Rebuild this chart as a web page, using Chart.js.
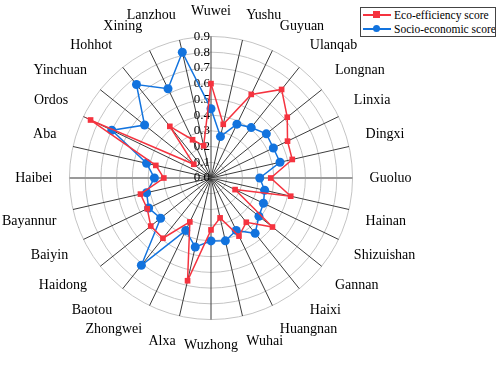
<!DOCTYPE html>
<html>
<head>
<meta charset="utf-8">
<script src="https://cdn.jsdelivr.net/npm/chart.js@4.4.0/dist/chart.umd.min.js"></script>
<style>
  html, body { margin: 0; padding: 0; background: #fff; }
  #wrap { position: relative; width: 498px; height: 365px; }
  #legend {
    position: absolute; left: 360px; top: 7px; width: 134px; overflow: hidden;
    border: 1px solid #444; background: #fff;
    font-family: "Liberation Serif", serif; font-size: 11.5px; color: #000;
    white-space: nowrap;
  }
  .legend-item { display: flex; align-items: center; height: 14px; }
  .legend-line { position: relative; flex: none; width: 28px; height: 1.5px; margin: 0 3px 0 2px; }
  .legend-mark { position: absolute; left: 10px; top: -3px; width: 7px; height: 7px; }
</style>
</head>
<body>
<div id="wrap">
  <canvas id="radarChart" width="498" height="365"></canvas>
  <div id="legend"></div>
</div>
<script>
const cities = ['Wuwei', 'Yushu', 'Guyuan', 'Ulanqab', 'Longnan', 'Linxia', 'Dingxi', 'Guoluo',
  'Hainan', 'Shizuishan', 'Gannan', 'Haixi', 'Huangnan', 'Wuhai', 'Wuzhong', 'Alxa',
  'Zhongwei', 'Baotou', 'Haidong', 'Baiyin', 'Bayannur', 'Haibei', 'Aba', 'Ordos',
  'Yinchuan', 'Hohhot', 'Xining', 'Lanzhou'];
const ecoScore = [0.60, 0.35, 0.59, 0.72, 0.62, 0.54, 0.53, 0.38,
  0.52, 0.17, 0.50, 0.36, 0.41, 0.26, 0.33, 0.67,
  0.31, 0.49, 0.49, 0.45, 0.46, 0.30, 0.36, 0.85,
  0.14, 0.42, 0.27, 0.21];
const socioScore = [0.44, 0.27, 0.38, 0.41, 0.45, 0.44, 0.45, 0.31,
  0.35, 0.37, 0.39, 0.45, 0.37, 0.41, 0.40, 0.45,
  0.37, 0.71, 0.41, 0.44, 0.42, 0.36, 0.42, 0.70,
  0.54, 0.76, 0.63, 0.82];
const tickLabels = ['0.0', '0.1', '0.2', '0.3', '0.4', '0.5', '0.6', '0.7', '0.8', '0.9'];

const RED = '#f5333f';
const BLUE = '#1273de';

// tick labels drawn just left of the vertical axis
const tickText = {
    id: 'tickText',
    beforeDatasetsDraw(chart) {
        const r = chart.scales.r;
        const ctx = chart.ctx;
        ctx.save();
        ctx.font = '13px "Liberation Serif", serif';
        ctx.fillStyle = '#000';
        ctx.textAlign = 'right';
        ctx.textBaseline = 'middle';
        tickLabels.forEach((t) => {
            const d = r.getDistanceFromCenterForValue(parseFloat(t));
            ctx.fillText(t, r.xCenter - 1, r.yCenter - d);
        });
        ctx.restore();
    }
};

const ctx = document.getElementById('radarChart').getContext('2d');
const radarChart = new Chart(ctx, {
    type: 'radar',
    data: {
        labels: cities,
        datasets: [
            {
                label: 'Eco-efficiency score',
                data: ecoScore,
                borderColor: RED,
                backgroundColor: RED,
                borderWidth: 1.5,
                pointStyle: 'rect',
                pointRadius: 4,
                pointBorderWidth: 0,
                fill: false
            },
            {
                label: 'Socio-economic score',
                data: socioScore,
                borderColor: BLUE,
                backgroundColor: BLUE,
                borderWidth: 1.5,
                pointStyle: 'circle',
                pointRadius: 4.5,
                pointBorderWidth: 0,
                fill: false
            }
        ]
    },
    options: {
        responsive: false,
        animation: false,
        layout: { padding: { left: 0, right: 80, top: 2, bottom: 10 } },
        scales: {
            r: {
                min: 0,
                max: 0.9,
                ticks: { display: false, stepSize: 0.1 },
                grid: { circular: true, color: '#c4c4c4', lineWidth: 1 },
                angleLines: {
                    color: (c) => (c.index === 7 || c.index === 21) ? '#9a9a9a' : '#3c3c3c',
                    lineWidth: (c) => (c.index === 7 || c.index === 21) ? 2 : 1
                },
                pointLabels: {
                    color: '#000',
                    padding: 17,
                    font: { family: '"Liberation Serif", serif', size: 14 }
                }
            }
        },
        plugins: {
            legend: { display: false },
            tooltip: { enabled: false }
        }
    },
    plugins: [tickText]
});

// legend box
const legendBox = document.getElementById('legend');
radarChart.data.datasets.forEach((ds) => {
    const item = document.createElement('div');
    item.className = 'legend-item';
    const line = document.createElement('div');
    line.className = 'legend-line';
    line.style.background = ds.borderColor;
    const mark = document.createElement('div');
    mark.className = 'legend-mark';
    mark.style.background = ds.borderColor;
    if (ds.pointStyle === 'circle') mark.style.borderRadius = '50%';
    line.appendChild(mark);
    const txt = document.createElement('span');
    txt.textContent = ds.label;
    item.appendChild(line);
    item.appendChild(txt);
    legendBox.appendChild(item);
});
</script>
</body>
</html>
